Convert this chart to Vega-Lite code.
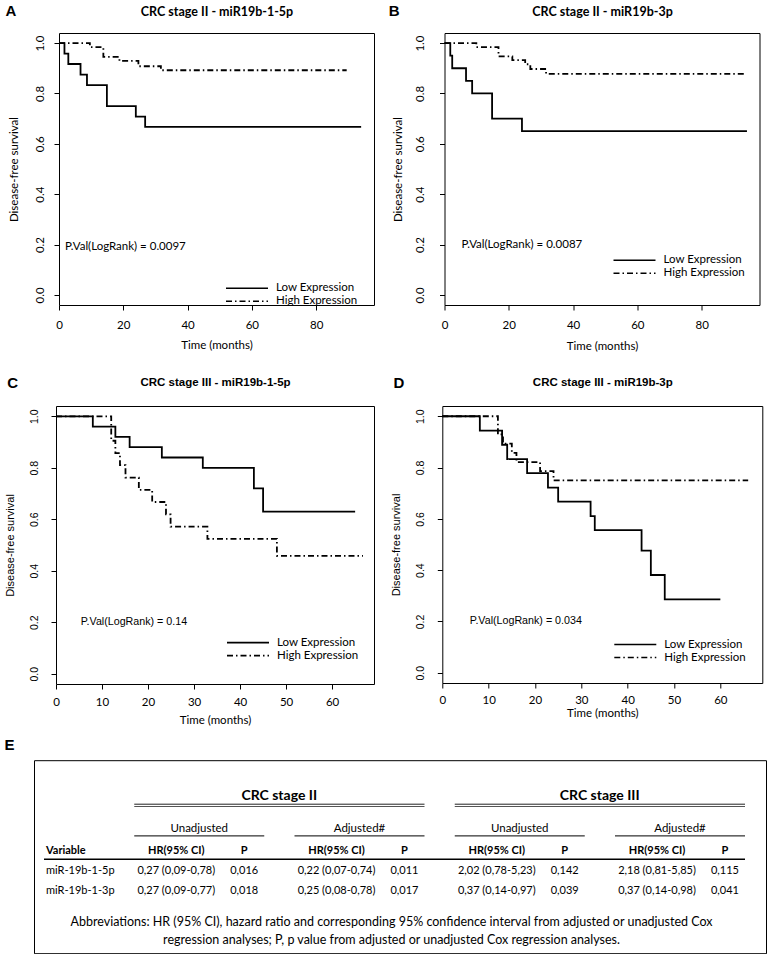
{
  "$schema": "https://vega.github.io/schema/vega-lite/v6.json",
  "background": "white",
  "padding": {"left": 3, "top": 2, "right": 0, "bottom": 0},
  "config": {
    "font": "Lato",
    "view": {"stroke": "black", "strokeWidth": 1},
    "axis": {"grid": false, "domain": false, "tickColor": "black", "tickWidth": 1, "tickSize": 5, "labelColor": "black", "titleColor": "black", "titleFontWeight": "normal", "labelFlush": false, "labelOverlap": false, "labelBound": false},
    "legend": {"orient": "none", "title": null, "symbolType": "stroke", "symbolSize": 1764, "symbolStrokeColor": "black", "symbolStrokeWidth": 1.6, "labelFont": "Lato", "labelFontSize": 11.5, "labelColor": "black", "labelOffset": 7, "clipHeight": 12.5, "rowPadding": -1.5, "padding": 0}
  },
  "datasets": {
    "kmA": [
      {"group": "Low Expression", "time": 0, "surv": 1},
      {"group": "Low Expression", "time": 1.7, "surv": 0.958},
      {"group": "Low Expression", "time": 2.9, "surv": 0.917},
      {"group": "Low Expression", "time": 6.7, "surv": 0.875},
      {"group": "Low Expression", "time": 8.7, "surv": 0.833},
      {"group": "Low Expression", "time": 14.9, "surv": 0.75},
      {"group": "Low Expression", "time": 23.9, "surv": 0.708},
      {"group": "Low Expression", "time": 26.8, "surv": 0.667},
      {"group": "Low Expression", "time": 94, "surv": 0.667},
      {"group": "High Expression", "time": 0, "surv": 1},
      {"group": "High Expression", "time": 9.6, "surv": 0.984},
      {"group": "High Expression", "time": 13.8, "surv": 0.945},
      {"group": "High Expression", "time": 18.8, "surv": 0.929},
      {"group": "High Expression", "time": 24.7, "surv": 0.908},
      {"group": "High Expression", "time": 31.7, "surv": 0.892},
      {"group": "High Expression", "time": 89.5, "surv": 0.892}
    ],
    "kmB": [
      {"group": "Low Expression", "time": 0, "surv": 1},
      {"group": "Low Expression", "time": 1.8, "surv": 0.95},
      {"group": "Low Expression", "time": 2.4, "surv": 0.9},
      {"group": "Low Expression", "time": 6.7, "surv": 0.85},
      {"group": "Low Expression", "time": 8.6, "surv": 0.8},
      {"group": "Low Expression", "time": 14.8, "surv": 0.7},
      {"group": "Low Expression", "time": 24.1, "surv": 0.65},
      {"group": "Low Expression", "time": 94.1, "surv": 0.65},
      {"group": "High Expression", "time": 0, "surv": 1},
      {"group": "High Expression", "time": 9.9, "surv": 0.984},
      {"group": "High Expression", "time": 16.8, "surv": 0.947},
      {"group": "High Expression", "time": 21.1, "surv": 0.932},
      {"group": "High Expression", "time": 25.1, "surv": 0.916},
      {"group": "High Expression", "time": 26.7, "surv": 0.897},
      {"group": "High Expression", "time": 31.6, "surv": 0.878},
      {"group": "High Expression", "time": 94, "surv": 0.878}
    ],
    "kmC": [
      {"group": "Low Expression", "time": 0, "surv": 1},
      {"group": "Low Expression", "time": 8, "surv": 0.96},
      {"group": "Low Expression", "time": 12.9, "surv": 0.92},
      {"group": "Low Expression", "time": 16, "surv": 0.88},
      {"group": "Low Expression", "time": 23, "surv": 0.84},
      {"group": "Low Expression", "time": 31.9, "surv": 0.8},
      {"group": "Low Expression", "time": 43, "surv": 0.72},
      {"group": "Low Expression", "time": 45, "surv": 0.63},
      {"group": "Low Expression", "time": 65, "surv": 0.63},
      {"group": "High Expression", "time": 0, "surv": 1},
      {"group": "High Expression", "time": 12, "surv": 0.905},
      {"group": "High Expression", "time": 12.9, "surv": 0.857},
      {"group": "High Expression", "time": 13.9, "surv": 0.81},
      {"group": "High Expression", "time": 15.1, "surv": 0.762},
      {"group": "High Expression", "time": 18, "surv": 0.714},
      {"group": "High Expression", "time": 20.9, "surv": 0.667},
      {"group": "High Expression", "time": 23.9, "surv": 0.619},
      {"group": "High Expression", "time": 24.9, "surv": 0.571},
      {"group": "High Expression", "time": 32.9, "surv": 0.524},
      {"group": "High Expression", "time": 48, "surv": 0.458},
      {"group": "High Expression", "time": 66.7, "surv": 0.458}
    ],
    "kmD": [
      {"group": "Low Expression", "time": 0, "surv": 1},
      {"group": "Low Expression", "time": 8.1, "surv": 0.944},
      {"group": "Low Expression", "time": 12.9, "surv": 0.889},
      {"group": "Low Expression", "time": 14, "surv": 0.833},
      {"group": "Low Expression", "time": 18.3, "surv": 0.778},
      {"group": "Low Expression", "time": 22.8, "surv": 0.722},
      {"group": "Low Expression", "time": 25, "surv": 0.667},
      {"group": "Low Expression", "time": 32, "surv": 0.611},
      {"group": "Low Expression", "time": 32.9, "surv": 0.556},
      {"group": "Low Expression", "time": 43, "surv": 0.476},
      {"group": "Low Expression", "time": 45, "surv": 0.381},
      {"group": "Low Expression", "time": 48, "surv": 0.286},
      {"group": "Low Expression", "time": 60, "surv": 0.286},
      {"group": "High Expression", "time": 0, "surv": 1},
      {"group": "High Expression", "time": 12, "surv": 0.929},
      {"group": "High Expression", "time": 13.1, "surv": 0.893},
      {"group": "High Expression", "time": 15, "surv": 0.857},
      {"group": "High Expression", "time": 16, "surv": 0.821},
      {"group": "High Expression", "time": 21.1, "surv": 0.786},
      {"group": "High Expression", "time": 24, "surv": 0.75},
      {"group": "High Expression", "time": 66, "surv": 0.75}
    ],
    "cells": [
      {"variable": "Variable", "column": "Variable", "stat": "name", "value": "Variable"},
      {"variable": "Variable", "column": "II-Unadjusted", "stat": "HR", "value": "HR(95% CI)"},
      {"variable": "Variable", "column": "II-Unadjusted", "stat": "P", "value": "P"},
      {"variable": "Variable", "column": "II-Adjusted#", "stat": "HR", "value": "HR(95% CI)"},
      {"variable": "Variable", "column": "II-Adjusted#", "stat": "P", "value": "P"},
      {"variable": "Variable", "column": "III-Unadjusted", "stat": "HR", "value": "HR(95% CI)"},
      {"variable": "Variable", "column": "III-Unadjusted", "stat": "P", "value": "P"},
      {"variable": "Variable", "column": "III-Adjusted#", "stat": "HR", "value": "HR(95% CI)"},
      {"variable": "Variable", "column": "III-Adjusted#", "stat": "P", "value": "P"},
      {"variable": "miR-19b-1-5p", "column": "Variable", "stat": "name", "value": "miR-19b-1-5p"},
      {"variable": "miR-19b-1-5p", "column": "II-Unadjusted", "stat": "HR", "value": "0,27 (0,09-0,78)"},
      {"variable": "miR-19b-1-5p", "column": "II-Unadjusted", "stat": "P", "value": "0,016"},
      {"variable": "miR-19b-1-5p", "column": "II-Adjusted#", "stat": "HR", "value": "0,22 (0,07-0,74)"},
      {"variable": "miR-19b-1-5p", "column": "II-Adjusted#", "stat": "P", "value": "0,011"},
      {"variable": "miR-19b-1-5p", "column": "III-Unadjusted", "stat": "HR", "value": "2,02 (0,78-5,23)"},
      {"variable": "miR-19b-1-5p", "column": "III-Unadjusted", "stat": "P", "value": "0,142"},
      {"variable": "miR-19b-1-5p", "column": "III-Adjusted#", "stat": "HR", "value": "2,18 (0,81-5,85)"},
      {"variable": "miR-19b-1-5p", "column": "III-Adjusted#", "stat": "P", "value": "0,115"},
      {"variable": "miR-19b-1-3p", "column": "Variable", "stat": "name", "value": "miR-19b-1-3p"},
      {"variable": "miR-19b-1-3p", "column": "II-Unadjusted", "stat": "HR", "value": "0,27 (0,09-0,77)"},
      {"variable": "miR-19b-1-3p", "column": "II-Unadjusted", "stat": "P", "value": "0,018"},
      {"variable": "miR-19b-1-3p", "column": "II-Adjusted#", "stat": "HR", "value": "0,25 (0,08-0,78)"},
      {"variable": "miR-19b-1-3p", "column": "II-Adjusted#", "stat": "P", "value": "0,017"},
      {"variable": "miR-19b-1-3p", "column": "III-Unadjusted", "stat": "HR", "value": "0,37 (0,14-0,97)"},
      {"variable": "miR-19b-1-3p", "column": "III-Unadjusted", "stat": "P", "value": "0,039"},
      {"variable": "miR-19b-1-3p", "column": "III-Adjusted#", "stat": "HR", "value": "0,37 (0,14-0,98)"},
      {"variable": "miR-19b-1-3p", "column": "III-Adjusted#", "stat": "P", "value": "0,041"}
    ],
    "heads": [
      {"column": "II-Unadjusted", "label": "Unadjusted"},
      {"column": "II-Adjusted#", "label": "Adjusted#"},
      {"column": "III-Unadjusted", "label": "Unadjusted"},
      {"column": "III-Adjusted#", "label": "Adjusted#"}
    ],
    "stages": [
      {"stage": "CRC stage II", "from": "II-Unadjusted", "to": "II-Adjusted#"},
      {"stage": "CRC stage III", "from": "III-Unadjusted", "to": "III-Adjusted#"}
    ],
    "notes": [
      {"note": "Abbreviations: HR (95% CI), hazard ratio and corresponding 95% confidence interval from adjusted or unadjusted Cox\nregression analyses; P, p value from adjusted or unadjusted Cox regression analyses."}
    ],
    "blank": [{"k": ""}]
  },
  "resolve": {"scale": {"strokeDash": "independent"}, "legend": {"strokeDash": "independent"}},
  "spacing": 9.2,
  "vconcat": [
    {
      "spacing": 22,
      "resolve": {"scale": {"strokeDash": "independent"}, "legend": {"strokeDash": "independent"}},
      "vconcat": [
        {
          "spacing": -31,
          "resolve": {"scale": {"strokeDash": "independent"}, "legend": {"strokeDash": "independent"}},
          "hconcat": [
            {"width": 1, "height": 1, "view": {"stroke": null}, "data": {"name": "blank"}, "mark": {"type": "text", "opacity": 0}, "encoding": {"text": {"field": "k"}}},
            {
              "spacing": 12.5,
              "resolve": {"scale": {"strokeDash": "independent"}, "legend": {"strokeDash": "independent"}},
              "hconcat": [
                {
                  "width": 315, "height": 272,
                  "resolve": {"axis": {"x": "independent", "y": "independent"}},
                  "layer": [
                    {
                      "data": {"name": "kmA"},
                      "mark": {"type": "line", "interpolate": "step-after", "color": "black", "strokeWidth": 1.8},
                      "encoding": {
                        "x": {"field": "time", "type": "quantitative", "scale": {"domain": [0, 98], "nice": false, "zero": false},
                          "axis": {"values": [0, 20, 40, 60, 80], "labelFont": "Lato", "labelFontSize": 11.5, "labelBaseline": "middle", "labelPadding": 15, "title": "Time (months)", "titleFont": "Lato", "titleFontSize": 11.5, "titleY": 40, "titleBaseline": "middle"}},
                        "y": {"field": "surv", "type": "quantitative", "scale": {"domain": [-0.04, 1.04], "nice": false, "zero": false},
                          "axis": {"values": [0, 0.2, 0.4, 0.6, 0.8, 1], "format": ".1f", "labelAngle": -90, "labelAlign": "center", "labelBaseline": "middle", "labelPadding": 13.5, "labelFont": "Lato", "labelFontSize": 11.5, "title": "Disease-free survival", "titleFont": "Lato", "titleFontSize": 11.5, "titleX": -45, "titleBaseline": "middle"}},
                        "strokeDash": {"field": "group", "type": "nominal", "scale": {"domain": ["Low Expression", "High Expression"], "range": [[1, 0], [6, 3, 1.5, 3]]},
                          "legend": {"legendX": 166, "legendY": 249}}
                      }
                    },
                    {
                      "data": {"values": [{"note": "P.Val(LogRank) = 0.0097"}]},
                      "mark": {"type": "text", "align": "left", "baseline": "middle", "font": "Lato", "fontSize": 11.5, "color": "black"},
                      "encoding": {
                        "x": {"datum": 1.9, "type": "quantitative", "axis": {"orient": "top", "title": "CRC stage II - miR19b-1-5p", "titleFont": "Lato", "titleFontWeight": "bold", "titleFontSize": 12.5, "labels": false, "ticks": false, "domain": false, "titleY": -18, "titleBaseline": "alphabetic"}},
                        "y": {"datum": 0.19, "type": "quantitative", "axis": {"orient": "right", "labels": false, "ticks": false, "domain": false, "title": "A", "titleAngle": 0, "titleX": -369, "titleY": -18, "titleAlign": "left", "titleBaseline": "alphabetic", "titleFont": "Liberation Sans", "titleFontSize": 15, "titleFontWeight": "bold"}},
                        "text": {"field": "note"}
                      }
                    }
                  ]
                },
                {
                  "width": 315, "height": 272,
                  "resolve": {"axis": {"x": "independent", "y": "independent"}},
                  "layer": [
                    {
                      "data": {"name": "kmB"},
                      "mark": {"type": "line", "interpolate": "step-after", "color": "black", "strokeWidth": 1.8},
                      "encoding": {
                        "x": {"field": "time", "type": "quantitative", "scale": {"domain": [0, 98], "nice": false, "zero": false},
                          "axis": {"values": [0, 20, 40, 60, 80], "labelFont": "Lato", "labelFontSize": 11.5, "labelBaseline": "middle", "labelPadding": 15, "title": "Time (months)", "titleFont": "Lato", "titleFontSize": 11.5, "titleY": 41, "titleBaseline": "middle"}},
                        "y": {"field": "surv", "type": "quantitative", "scale": {"domain": [-0.04, 1.04], "nice": false, "zero": false},
                          "axis": {"values": [0, 0.2, 0.4, 0.6, 0.8, 1], "format": ".1f", "labelAngle": -90, "labelAlign": "center", "labelBaseline": "middle", "labelPadding": 19, "labelFont": "Lato", "labelFontSize": 11.5, "title": "Disease-free survival", "titleFont": "Lato", "titleFontSize": 11.5, "titleX": -46, "titleBaseline": "middle"}},
                        "strokeDash": {"field": "group", "type": "nominal", "scale": {"domain": ["Low Expression", "High Expression"], "range": [[1, 0], [6, 3, 1.5, 3]]},
                          "legend": {"legendX": 168, "legendY": 221}}
                      }
                    },
                    {
                      "data": {"values": [{"note": "P.Val(LogRank) = 0.0087"}]},
                      "mark": {"type": "text", "align": "left", "baseline": "middle", "font": "Lato", "fontSize": 11.5, "color": "black"},
                      "encoding": {
                        "x": {"datum": 5.3, "type": "quantitative", "axis": {"orient": "top", "title": "CRC stage II - miR19b-3p", "titleFont": "Lato", "titleFontWeight": "bold", "titleFontSize": 12.5, "labels": false, "ticks": false, "domain": false, "titleY": -18, "titleBaseline": "alphabetic"}},
                        "y": {"datum": 0.2, "type": "quantitative", "axis": {"orient": "right", "labels": false, "ticks": false, "domain": false, "title": "B", "titleAngle": 0, "titleX": -371.3, "titleY": -18, "titleAlign": "left", "titleBaseline": "alphabetic", "titleFont": "Liberation Sans", "titleFontSize": 15, "titleFontWeight": "bold"}},
                        "text": {"field": "note"}
                      }
                    }
                  ]
                }
              ]
            }
          ]
        },
        {
          "spacing": -31,
          "resolve": {"scale": {"strokeDash": "independent"}, "legend": {"strokeDash": "independent"}},
          "hconcat": [
            {"width": 1, "height": 1, "view": {"stroke": null}, "data": {"name": "blank"}, "mark": {"type": "text", "opacity": 0}, "encoding": {"text": {"field": "k"}}},
            {
              "spacing": 14.3,
              "resolve": {"scale": {"strokeDash": "independent"}, "legend": {"strokeDash": "independent"}},
              "hconcat": [
                {
                  "width": 318, "height": 278,
                  "resolve": {"axis": {"x": "independent", "y": "independent"}},
                  "layer": [
                    {
                      "data": {"name": "kmC"},
                      "mark": {"type": "line", "interpolate": "step-after", "color": "black", "strokeWidth": 1.8},
                      "encoding": {
                        "x": {"field": "time", "type": "quantitative", "scale": {"domain": [0, 69.1], "nice": false, "zero": false},
                          "axis": {"values": [0, 10, 20, 30, 40, 50, 60], "labelFont": "Lato", "labelFontSize": 11.5, "labelBaseline": "middle", "labelPadding": 13, "title": "Time (months)", "titleFont": "Lato", "titleFontSize": 11.5, "titleY": 36.3, "titleBaseline": "middle"}},
                        "y": {"field": "surv", "type": "quantitative", "scale": {"domain": [-0.04, 1.04], "nice": false, "zero": false},
                          "axis": {"values": [0, 0.2, 0.4, 0.6, 0.8, 1], "format": ".1f", "labelAngle": -90, "labelAlign": "center", "labelBaseline": "middle", "labelPadding": 16.6, "labelFont": "Liberation Sans", "labelFontSize": 10.5, "title": "Disease-free survival", "titleFont": "Liberation Sans", "titleFontSize": 11, "titleX": -45.5, "titleBaseline": "middle"}},
                        "strokeDash": {"field": "group", "type": "nominal", "scale": {"domain": ["Low Expression", "High Expression"], "range": [[1, 0], [6, 3, 1.5, 3]]},
                          "legend": {"legendX": 170, "legendY": 230.4}}
                      }
                    },
                    {
                      "data": {"values": [{"note": "P.Val(LogRank) = 0.14"}]},
                      "mark": {"type": "text", "align": "left", "baseline": "middle", "font": "Liberation Sans", "fontSize": 10.7, "color": "black"},
                      "encoding": {
                        "x": {"datum": 5.4, "type": "quantitative", "axis": {"orient": "top", "title": "CRC stage III - miR19b-1-5p", "titleFont": "Liberation Sans", "titleFontWeight": "bold", "titleFontSize": 11.5, "labels": false, "ticks": false, "domain": false, "titleY": -21, "titleBaseline": "alphabetic"}},
                        "y": {"datum": 0.2, "type": "quantitative", "axis": {"orient": "right", "labels": false, "ticks": false, "domain": false, "title": "C", "titleAngle": 0, "titleX": -367.3, "titleY": -19, "titleAlign": "left", "titleBaseline": "alphabetic", "titleFont": "Liberation Sans", "titleFontSize": 15, "titleFontWeight": "bold"}},
                        "text": {"field": "note"}
                      }
                    }
                  ]
                },
                {
                  "width": 320, "height": 277,
                  "resolve": {"axis": {"x": "independent", "y": "independent"}},
                  "layer": [
                    {
                      "data": {"name": "kmD"},
                      "mark": {"type": "line", "interpolate": "step-after", "color": "black", "strokeWidth": 1.8},
                      "encoding": {
                        "x": {"field": "time", "type": "quantitative", "scale": {"domain": [0, 69.05], "nice": false, "zero": false},
                          "axis": {"values": [0, 10, 20, 30, 40, 50, 60], "labelFont": "Lato", "labelFontSize": 11.5, "labelBaseline": "middle", "labelPadding": 12.3, "title": "Time (months)", "titleFont": "Lato", "titleFontSize": 11.5, "titleY": 30.6, "titleBaseline": "middle"}},
                        "y": {"field": "surv", "type": "quantitative", "scale": {"domain": [-0.04, 1.04], "nice": false, "zero": false},
                          "axis": {"values": [0, 0.2, 0.4, 0.6, 0.8, 1], "format": ".1f", "labelAngle": -90, "labelAlign": "center", "labelBaseline": "middle", "labelPadding": 16.7, "labelFont": "Liberation Sans", "labelFontSize": 10.5, "title": "Disease-free survival", "titleFont": "Liberation Sans", "titleFontSize": 11, "titleX": -45.7, "titleBaseline": "middle"}},
                        "strokeDash": {"field": "group", "type": "nominal", "scale": {"domain": ["Low Expression", "High Expression"], "range": [[1, 0], [6, 3, 1.5, 3]]},
                          "legend": {"legendX": 171, "legendY": 232.3}}
                      }
                    },
                    {
                      "data": {"values": [{"note": "P.Val(LogRank) = 0.034"}]},
                      "mark": {"type": "text", "align": "left", "baseline": "middle", "font": "Liberation Sans", "fontSize": 10.7, "color": "black"},
                      "encoding": {
                        "x": {"datum": 5.9, "type": "quantitative", "axis": {"orient": "top", "title": "CRC stage III - miR19b-3p", "titleFont": "Liberation Sans", "titleFontWeight": "bold", "titleFontSize": 11.5, "labels": false, "ticks": false, "domain": false, "titleY": -21, "titleBaseline": "alphabetic"}},
                        "y": {"datum": 0.2, "type": "quantitative", "axis": {"orient": "right", "labels": false, "ticks": false, "domain": false, "title": "D", "titleAngle": 0, "titleX": -369.3, "titleY": -19, "titleAlign": "left", "titleBaseline": "alphabetic", "titleFont": "Liberation Sans", "titleFontSize": 15, "titleFontWeight": "bold"}},
                        "text": {"field": "note"}
                      }
                    }
                  ]
                }
              ]
            }
          ]
        }
      ]
    },
    {
      "width": 732, "height": 193,
      "resolve": {"axis": {"x": "independent", "y": "independent"}},
      "layer": [
        {
          "data": {"name": "cells"},
          "transform": [{"filter": "datum.variable === 'Variable' && datum.stat === 'HR'"}],
          "mark": {"type": "text", "align": "center", "baseline": "middle", "dx": -23, "font": "Lato", "fontSize": 11, "fontWeight": "bold", "color": "black"},
          "encoding": {
            "x": {"field": "column", "type": "nominal", "scale": {"type": "point", "domain": ["Variable", "II-Unadjusted", "II-Adjusted#", "III-Unadjusted", "III-Adjusted#"], "range": [5, 646], "padding": 0}, "axis": null},
            "y": {"field": "variable", "type": "nominal", "scale": {"type": "point", "domain": ["Variable", "miR-19b-1-5p", "miR-19b-1-3p"], "range": [91, 131], "padding": 0},
              "axis": {"orient": "left", "labels": false, "ticks": false, "domain": false, "title": "E", "titleAngle": 0, "titleX": -30, "titleY": -11, "titleAlign": "left", "titleBaseline": "alphabetic", "titleFont": "Liberation Sans", "titleFontSize": 15, "titleFontWeight": "bold"}},
            "text": {"field": "value"}
          }
        },
        {
          "data": {"name": "cells"},
          "transform": [{"filter": "datum.variable === 'Variable' && datum.stat === 'P'"}],
          "mark": {"type": "text", "align": "center", "baseline": "middle", "dx": 45, "font": "Lato", "fontSize": 11, "fontWeight": "bold", "color": "black"},
          "encoding": {
            "x": {"field": "column", "type": "nominal", "axis": null},
            "y": {"field": "variable", "type": "nominal", "axis": null},
            "text": {"field": "value"}
          }
        },
        {
          "data": {"name": "cells"},
          "transform": [{"filter": "datum.variable === 'Variable' && datum.stat === 'name'"}],
          "mark": {"type": "text", "align": "left", "baseline": "middle", "dx": 7, "font": "Lato", "fontSize": 11, "fontWeight": "bold", "color": "black"},
          "encoding": {
            "x": {"field": "column", "type": "nominal", "axis": null},
            "y": {"field": "variable", "type": "nominal", "axis": null},
            "text": {"field": "value"}
          }
        },
        {
          "data": {"name": "cells"},
          "transform": [{"filter": "datum.variable !== 'Variable' && datum.stat === 'HR'"}],
          "mark": {"type": "text", "align": "center", "baseline": "middle", "dx": -23, "font": "Lato", "fontSize": 11, "color": "black"},
          "encoding": {
            "x": {"field": "column", "type": "nominal", "axis": null},
            "y": {"field": "variable", "type": "nominal", "axis": null},
            "text": {"field": "value"}
          }
        },
        {
          "data": {"name": "cells"},
          "transform": [{"filter": "datum.variable !== 'Variable' && datum.stat === 'P'"}],
          "mark": {"type": "text", "align": "center", "baseline": "middle", "dx": 45, "font": "Lato", "fontSize": 11, "color": "black"},
          "encoding": {
            "x": {"field": "column", "type": "nominal", "axis": null},
            "y": {"field": "variable", "type": "nominal", "axis": null},
            "text": {"field": "value"}
          }
        },
        {
          "data": {"name": "cells"},
          "transform": [{"filter": "datum.variable !== 'Variable' && datum.stat === 'name'"}],
          "mark": {"type": "text", "align": "left", "baseline": "middle", "dx": 7, "font": "Lato", "fontSize": 11, "color": "black"},
          "encoding": {
            "x": {"field": "column", "type": "nominal", "axis": null},
            "y": {"field": "variable", "type": "nominal", "axis": null},
            "text": {"field": "value"}
          }
        },
        {
          "data": {"name": "heads"},
          "mark": {"type": "text", "align": "center", "baseline": "middle", "dy": -22, "font": "Lato", "fontSize": 11.5, "color": "black"},
          "encoding": {
            "x": {"field": "column", "type": "nominal", "axis": null},
            "y": {"datum": "Variable", "type": "nominal", "axis": null},
            "text": {"field": "label"}
          }
        },
        {
          "data": {"name": "heads"},
          "mark": {"type": "rule", "color": "black", "strokeWidth": 1, "xOffset": -65, "x2Offset": 65, "yOffset": -15.3},
          "encoding": {
            "x": {"field": "column", "type": "nominal", "axis": null},
            "x2": {"field": "column"},
            "y": {"datum": "Variable", "type": "nominal", "axis": null}
          }
        },
        {
          "data": {"name": "stages"},
          "mark": {"type": "text", "align": "center", "baseline": "middle", "dx": 80, "dy": -55, "font": "Lato", "fontSize": 14, "fontWeight": "bold", "color": "black"},
          "encoding": {
            "x": {"field": "from", "type": "nominal", "axis": null},
            "y": {"datum": "Variable", "type": "nominal", "axis": null},
            "text": {"field": "stage"}
          }
        },
        {
          "data": {"name": "stages"},
          "mark": {"type": "rule", "color": "#222222", "strokeWidth": 1, "xOffset": -65, "x2Offset": 65, "yOffset": -47},
          "encoding": {
            "x": {"field": "from", "type": "nominal", "axis": null},
            "x2": {"field": "to"},
            "y": {"datum": "Variable", "type": "nominal", "axis": null}
          }
        },
        {
          "data": {"name": "stages"},
          "mark": {"type": "rule", "color": "#555555", "strokeWidth": 1, "xOffset": -65, "x2Offset": 65, "yOffset": -44.7},
          "encoding": {
            "x": {"field": "from", "type": "nominal", "axis": null},
            "x2": {"field": "to"},
            "y": {"datum": "Variable", "type": "nominal", "axis": null}
          }
        },
        {
          "data": {"name": "notes"},
          "mark": {"type": "rule", "color": "black", "strokeWidth": 1.6, "xOffset": 5, "x2Offset": 65, "yOffset": 8},
          "encoding": {
            "x": {"datum": "Variable", "type": "nominal", "axis": null},
            "x2": {"datum": "III-Adjusted#"},
            "y": {"datum": "Variable", "type": "nominal", "axis": null}
          }
        },
        {
          "data": {"name": "notes"},
          "mark": {"type": "text", "align": "center", "baseline": "top", "dx": 32, "dy": 25, "lineBreak": "\n", "lineHeight": 18, "font": "Lato", "fontSize": 12.5, "color": "black"},
          "encoding": {
            "x": {"datum": "II-Adjusted#", "type": "nominal", "axis": null},
            "y": {"datum": "miR-19b-1-3p", "type": "nominal", "axis": null},
            "text": {"field": "note"}
          }
        }
      ]
    }
  ]
}
